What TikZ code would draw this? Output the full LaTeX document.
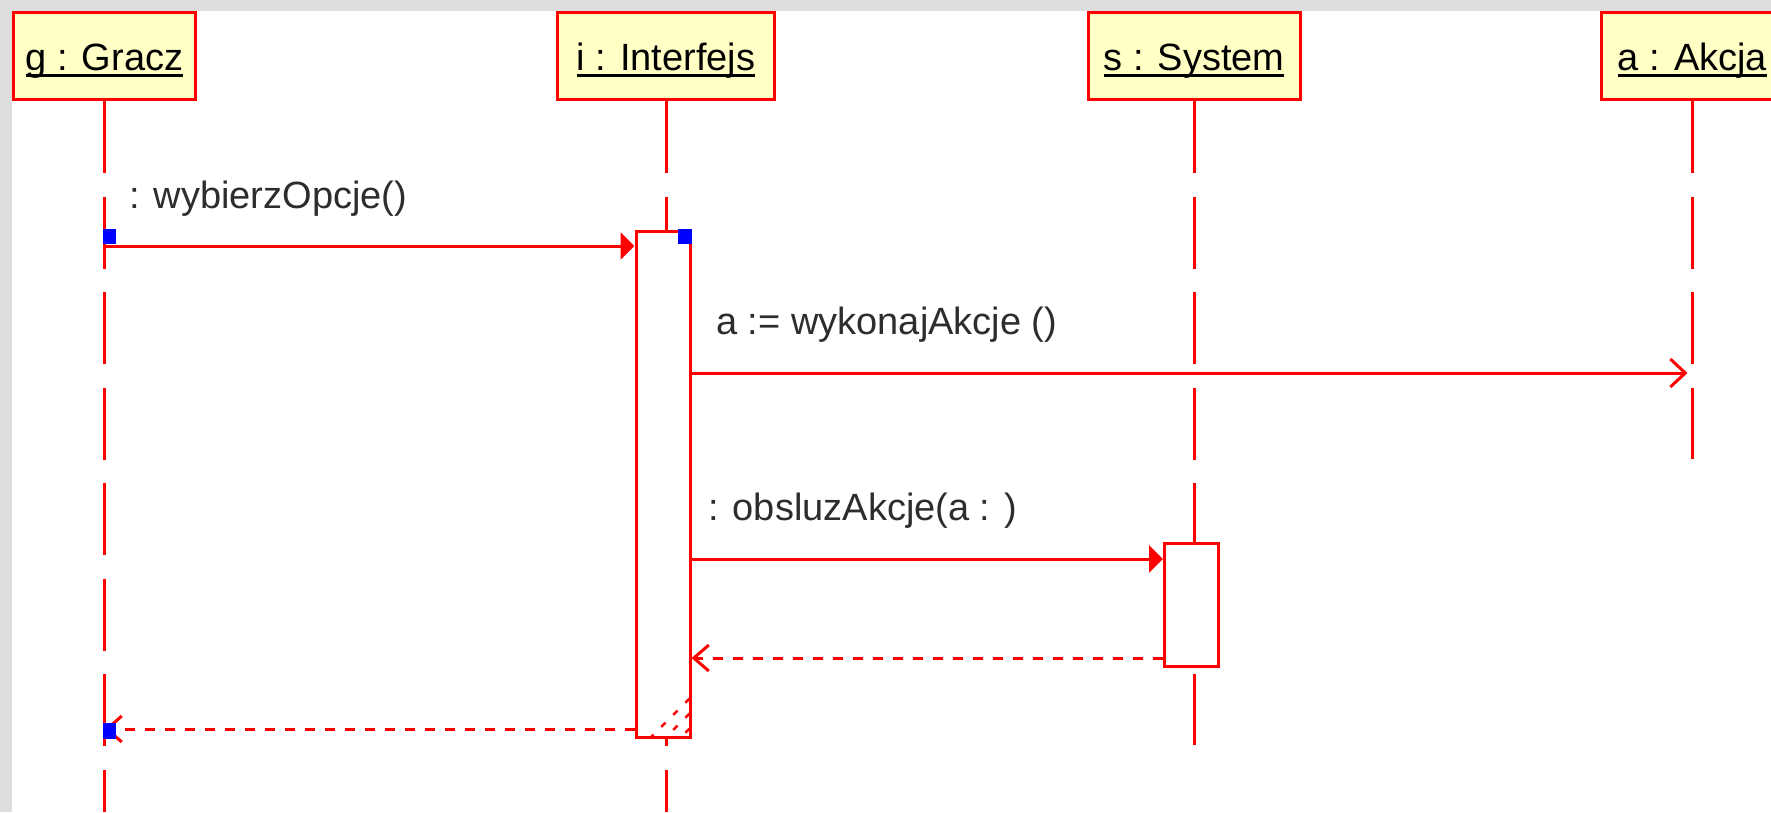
\documentclass[tikz,border=0pt]{standalone}
\usepackage{fontspec}
\setmainfont{Liberation Sans}
\usetikzlibrary{arrows.meta, positioning}
\definecolor{umlred}{RGB}{255,0,0}
\definecolor{umlblue}{RGB}{0,0,255}
\definecolor{umlyellow}{RGB}{255,255,198}
\definecolor{umlgray}{RGB}{221,221,221}
\definecolor{msgtext}{RGB}{45,45,45}
\newsavebox\objbox
\newcommand\objname[1]{\sbox\objbox{#1}\usebox\objbox\llap{\rule[-7pt]{\wd\objbox}{3pt}}}
\tikzset{object/.style={draw=umlred,fill=umlyellow,line width=3pt,minimum height=87pt,
                        text height=28pt,text depth=0pt,font=\fontsize{38}{46}\selectfont},
         activation/.style={draw=umlred,fill=white,line width=3pt,minimum width=54pt},
         lifeline/.style={umlred,line width=3pt,dash pattern=on 72pt off 23.5pt},
         call/.style={umlred,line width=3pt,-{Triangle[length=14pt,width=27pt]}},
         async/.style={umlred,line width=3pt,shorten >=5pt,-{Straight Barb[length=15pt,width=28pt]}},
         reply/.style={umlred,line width=3pt,dash pattern=on 10pt off 10pt,-{Straight Barb[length=15pt,width=26pt]}},
         hatch/.style={umlred,line width=2.5pt,dash pattern=on 6pt off 11pt},
         handle/.style={fill=umlblue,inner sep=0pt,minimum width=13pt,minimum height=15pt},
         msg/.style={anchor=base west,inner sep=0pt,text=msgtext,font=\fontsize{38}{46}\selectfont}}

\begin{document}
\begin{tikzpicture}[x=1pt,y=-1pt]
        \useasboundingbox(0,0)rectangle(1771,812);
        \clip(0,0)rectangle(1771,812);
        \fill[umlgray](0,0)rectangle(1771,812);
        \fill[white](12,11)rectangle(1771,812);

        \node[object, minimum width=182pt](g)at(104.5,56){\objname{g : Gracz}};
        \node[object, minimum width=217pt](i)at(666,56){\objname{i : Interfejs}};
        \node[object, minimum width=212pt](s)at(1194,56){\objname{s : System}};
        \node[object, minimum width=182pt](a)at(1692.5,56){\objname{a : Akcja}};

        \coordinate(gEnd)at(104.5,812);
        \coordinate(iEnd)at(666,812);
        \coordinate(sEnd)at(1194,745);
        \coordinate(aEnd)at(1692.5,459);
        \draw[lifeline](g.south)--(gEnd);
        \draw[lifeline](i.south)--(iEnd);
        \draw[lifeline](s.south)--(sEnd);
        \draw[lifeline](a.south)--(aEnd);

        \node[activation, minimum height=506pt](ai)at(663,484){};
        \node[activation, minimum height=123pt](as)at(1191.5,604.5){};

        \coordinate(r1)at(0,246);
        \coordinate(r2)at(0,373);
        \coordinate(r3)at(0,559);
        \coordinate(r4)at(0,658);
        \coordinate(r5)at(0,729);

        \node[msg](l1)at(129,208){: wybierzOpcje()};
        \draw[call](g.south |- r1)--(ai.west |- r1);

        \node[msg](l2)at(716,334){a := wykonajAkcje ()};
        \draw[async](ai.east |- r2)--(a.south |- r2);

        \node[msg](l3)at(708,520){: obsluzAkcje(a : )};
        \draw[call](ai.east |- r3)--(as.west |- r3);

        \draw[reply](as.west |- r4)--(ai.east |- r4);
        \draw[reply](ai.west |- r5)--(g.south |- r5);

        \draw[hatch]([shift={(-2,-40)}]ai.south east)--([shift={(-40,-2)}]ai.south east);
        \draw[hatch]([shift={(-2,-25)}]ai.south east)--([shift={(-25,-2)}]ai.south east);
        \draw[hatch]([shift={(-2,-10)}]ai.south east)--([shift={(-10,-2)}]ai.south east);

        \node[handle](h1)at(109.5,236.5){};
        \node[handle, minimum width=14pt](h2)at(685,236.5){};
        \node[handle, minimum height=16pt](h3)at(109.5,731){};
    \end{tikzpicture}
\end{document}
